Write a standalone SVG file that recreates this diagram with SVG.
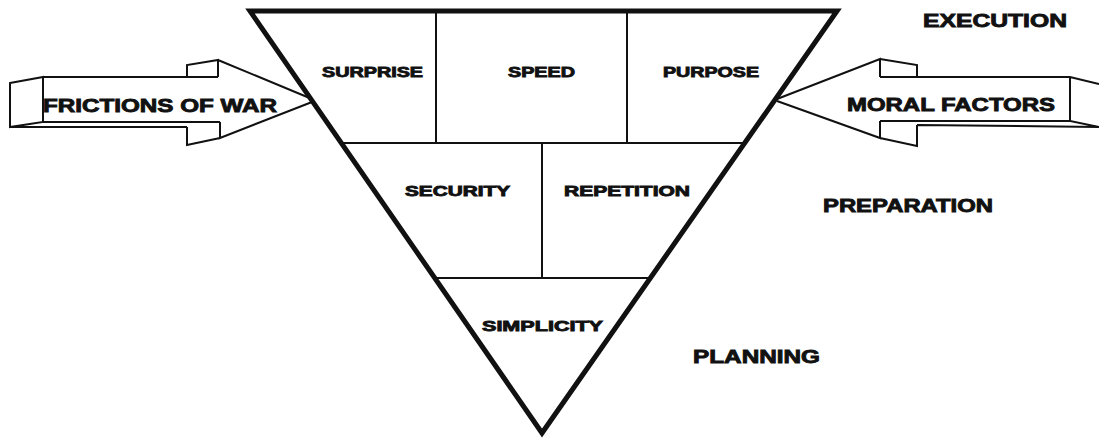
<svg xmlns="http://www.w3.org/2000/svg" width="1099" height="438" viewBox="0 0 1099 438">
<style>
.frame{fill:none;stroke:#111;stroke-width:5;stroke-linejoin:miter}
.div{fill:none;stroke:#111;stroke-width:2}
.arr{fill:none;stroke:#111;stroke-width:2;stroke-linejoin:miter}
.t{font-family:"Liberation Sans",Arial,sans-serif;font-weight:bold;fill:#111;stroke:#111;stroke-width:0.9}
.in{font-size:15px}
.out{font-size:19px}
.big{font-size:19px}
</style>
<rect width="1099" height="438" fill="#fff"/>

<g id="arrow-frictions">
  <polygon points="10,83 43,77 187,77 187,65 218,60 312,100 220,138 187,145 187,127 10,127" fill="#fff" stroke="none"/>
  <path class="arr" d="M10,83 L43,77 L43,122 L10,127 Z"/>
  <path class="arr" d="M43,77 L218,77 M187,77 L187,65 L218,60 L218,77 M218,60 L312,99 M312,102 L220,138 L220,122 M220,138 L187,145 L187,127 M43,122 L220,122 M10,127 L187,127"/>
  <text class="t out" x="43" y="112" textLength="234" lengthAdjust="spacingAndGlyphs">FRICTIONS OF WAR</text>
</g>

<g id="arrow-moral">
  <polygon points="777,100 880,59 917,65 917,77 1070,77 1099,84 1099,127 917,125 917,146 880,138" fill="#fff" stroke="none"/>
  <path class="arr" d="M777,99 L880,59 L880,77 M880,59 L917,65 L917,77 M880,77 L1070,77 L1099,84 M1070,77 L1070,121 L1099,127 M880,121 L1070,121 M917,125 L1099,127 M777,101 L880,138 L880,121 M880,138 L917,146 L917,125"/>
  <text class="t out" x="847" y="111" textLength="208" lengthAdjust="spacingAndGlyphs">MORAL FACTORS</text>
</g>

<g id="pyramid">
  <path class="div" d="M341,143 L743,143 M436,12 L436,143 M627,12 L627,143 M434,278 L650,278 M542,143 L542,278"/>
  <polygon class="frame" points="250,11 837,11 542,433"/>
</g>

<g id="cell-surprise"><text class="t in" x="322" y="77" textLength="101" lengthAdjust="spacingAndGlyphs">SURPRISE</text></g>
<g id="cell-speed"><text class="t in" x="508" y="77" textLength="67" lengthAdjust="spacingAndGlyphs">SPEED</text></g>
<g id="cell-purpose"><text class="t in" x="663" y="77" textLength="96" lengthAdjust="spacingAndGlyphs">PURPOSE</text></g>
<g id="cell-security"><text class="t in" x="405" y="196" textLength="105" lengthAdjust="spacingAndGlyphs">SECURITY</text></g>
<g id="cell-repetition"><text class="t in" x="564" y="196" textLength="126" lengthAdjust="spacingAndGlyphs">REPETITION</text></g>
<g id="cell-simplicity"><text class="t in" x="482" y="331" textLength="121" lengthAdjust="spacingAndGlyphs">SIMPLICITY</text></g>

<g id="level-execution"><text class="t big" x="923" y="27" textLength="144" lengthAdjust="spacingAndGlyphs">EXECUTION</text></g>
<g id="level-preparation"><text class="t big" x="823" y="212" textLength="170" lengthAdjust="spacingAndGlyphs">PREPARATION</text></g>
<g id="level-planning"><text class="t big" x="693" y="363" textLength="127" lengthAdjust="spacingAndGlyphs">PLANNING</text></g>

<g id="connectors"></g>
</svg>
